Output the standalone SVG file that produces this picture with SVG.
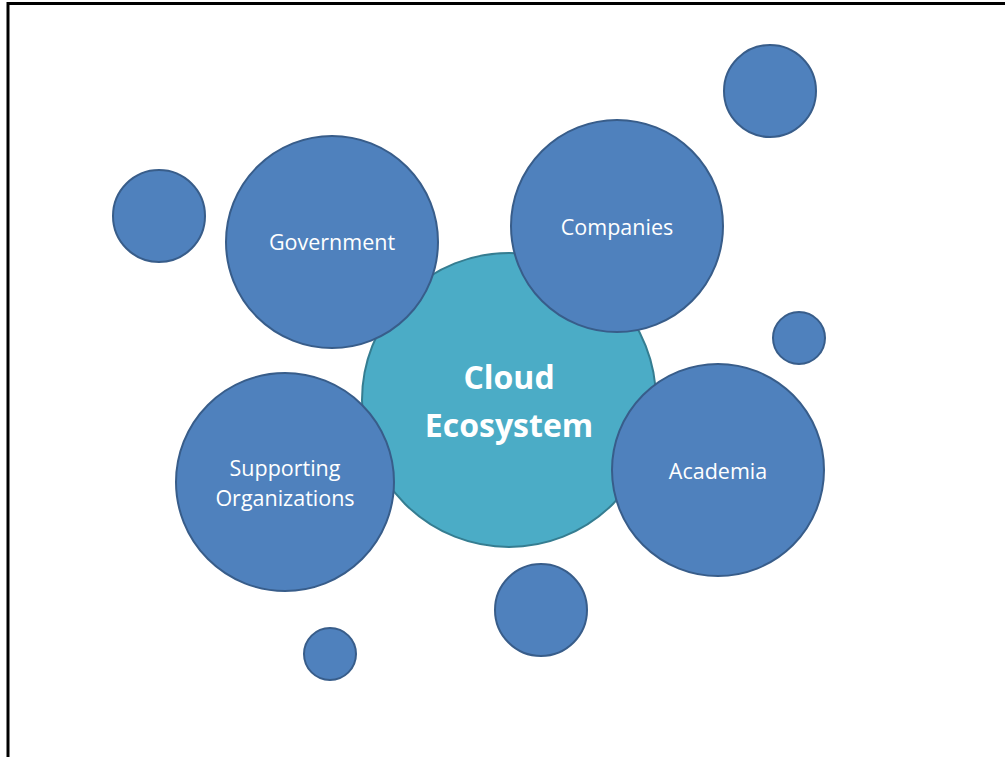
<svg xmlns="http://www.w3.org/2000/svg" width="1005" height="757" viewBox="0 0 1005 757">
<style>
.b{fill:#4F81BD;stroke:#385D8A;stroke-width:2}
.c{fill:#4BACC6;stroke:#357D91;stroke-width:2}
.t{fill:#fff;font-family:"Open Sans","Noto Sans",sans-serif;font-size:21.5px;text-anchor:middle}
.tb{fill:#fff;font-family:"Open Sans","Noto Sans",sans-serif;font-size:32px;font-weight:bold;text-anchor:middle}
</style>
<rect width="1005" height="757" fill="#fff"/>
<path d="M8 757 V3.5 H1005" fill="none" stroke="#000" stroke-width="3"/>
<g id="connectors"></g>
<g id="bubble-tr"><circle class="b" cx="770" cy="91" r="46"/></g>
<g id="bubble-l"><circle class="b" cx="159" cy="216" r="46"/></g>
<g id="bubble-r"><circle class="b" cx="799" cy="338" r="26"/></g>
<g id="bubble-b"><circle class="b" cx="541" cy="610" r="46"/></g>
<g id="bubble-bl"><circle class="b" cx="330" cy="654" r="26"/></g>
<g id="cloud"><circle class="c" cx="509" cy="400" r="147"/>
<text class="tb" x="509" y="389">Cloud</text><text class="tb" x="509" y="437">Ecosystem</text></g>
<g id="government"><circle class="b" cx="332" cy="242" r="106"/><text class="t" x="332" y="250">Government</text></g>
<g id="companies"><circle class="b" cx="617" cy="226" r="106"/><text class="t" x="617" y="235">Companies</text></g>
<g id="academia"><circle class="b" cx="718" cy="470" r="106"/><text class="t" x="718" y="479">Academia</text></g>
<g id="supporting"><circle class="b" cx="285" cy="482" r="109"/><text class="t" x="285" y="476">Supporting</text><text class="t" x="285" y="506">Organizations</text></g>
</svg>
